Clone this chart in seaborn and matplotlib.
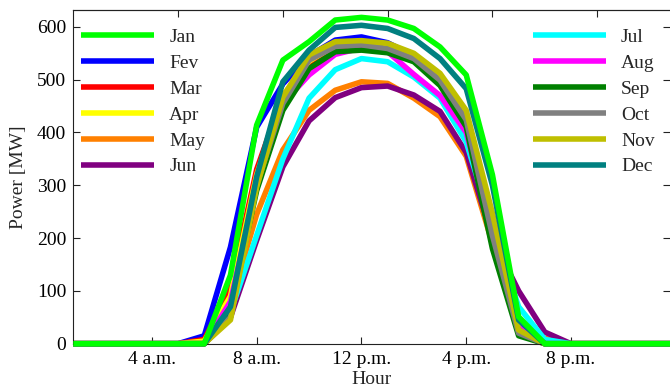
import numpy as np
import pandas as pd
import matplotlib
matplotlib.use("Agg")
import matplotlib.pyplot as plt
import seaborn as sns

hours = list(range(1, 25))
months = ["Jan", "Fev", "Mar", "Apr", "May", "Jun",
          "Jul", "Aug", "Sep", "Oct", "Nov", "Dec"]
colors = ["#00ff00", "#0000ff", "#ff0000", "#ffff00", "#ff8000", "#800080",
          "#00ffff", "#ff00ff", "#008000", "#808080", "#bfbf00", "#008080"]

# power [MW] per hour 1..24
jan = [0, 0, 0, 0, 0, 0, 130, 414, 537, 572, 613, 618, 613, 597, 562, 509, 320, 51, 0, 0, 0, 0, 0, 0]
fev = [0, 0, 0, 0, 0, 15, 183, 410, 492, 545, 575, 581, 570, 545, 503, 430, 225, 25, 0, 0, 0, 0, 0, 0]
mar = [0, 0, 0, 0, 0, 8, 105, 330, 470, 530, 560, 568, 560, 540, 495, 420, 215, 20, 0, 0, 0, 0, 0, 0]
apr = [0, 0, 0, 0, 0, 5, 90, 320, 470, 535, 565, 572, 565, 545, 505, 430, 225, 20, 0, 0, 0, 0, 0, 0]
may = [0, 0, 0, 0, 0, 0, 75, 245, 367, 442, 480, 496, 493, 465, 430, 355, 190, 35, 10, 0, 0, 0, 0, 0]
jun = [0, 0, 0, 0, 0, 0, 50, 196, 335, 422, 466, 485, 488, 471, 440, 362, 200, 100, 22, 0, 0, 0, 0, 0]
jul = [0, 0, 0, 0, 0, 0, 60, 205, 350, 465, 519, 540, 534, 505, 465, 382, 220, 70, 8, 0, 0, 0, 0, 0]
aug = [0, 0, 0, 0, 0, 0, 80, 300, 455, 509, 548, 560, 553, 510, 470, 400, 210, 40, 0, 0, 0, 0, 0, 0]
sep = [0, 0, 0, 0, 0, 0, 65, 290, 442, 521, 553, 556, 551, 534, 489, 411, 180, 15, 0, 0, 0, 0, 0, 0]
oct_ = [0, 0, 0, 0, 0, 0, 50, 300, 455, 537, 563, 566, 559, 540, 499, 424, 205, 20, 0, 0, 0, 0, 0, 0]
nov = [0, 0, 0, 0, 0, 0, 45, 297, 467, 547, 572, 574, 569, 550, 512, 442, 247, 26, 0, 0, 0, 0, 0, 0]
dec = [0, 0, 0, 0, 0, 0, 70, 316, 496, 556, 599, 603, 597, 578, 540, 483, 300, 45, 0, 0, 0, 0, 0, 0]

series = [jan, fev, mar, apr, may, jun, jul, aug, sep, oct_, nov, dec]
tick_pos = [4, 8, 12, 16, 20]
tick_labels = ["4 a.m.", "8 a.m.", "12 p.m.", "4 p.m.", "8 p.m."]

df = pd.DataFrame({
    "Hour": np.tile(hours, len(months)),
    "Power": np.concatenate(series),
    "Month": np.repeat(months, len(hours)),
})

sns.set_style("ticks")
plt.rcParams["font.family"] = ["Liberation Serif", "DejaVu Serif"]
plt.rcParams["font.size"] = 14

fig = plt.figure(figsize=(6.7, 3.91), dpi=100)
ax = fig.add_axes([73.3 / 670, 47.3 / 391, 596.2 / 670, 333.7 / 391])

sns.lineplot(data=df, x="Hour", y="Power", hue="Month", hue_order=months,
             palette=dict(zip(months, colors)), linewidth=4, ax=ax,
             legend=False, clip_on=False, solid_capstyle="butt")

lines = ax.get_lines()
# Jan sits on top of the others in the original
lines[0].set_zorder(5)

leg_kw = dict(loc="upper left", frameon=False, borderpad=0, borderaxespad=0,
              handlelength=3.76, handletextpad=0.77, labelspacing=0.43, fontsize=14)
leg1 = ax.legend(lines[:6], months[:6], bbox_to_anchor=(0.013, 0.946), **leg_kw)
ax.add_artist(leg1)
ax.legend(lines[6:], months[6:], bbox_to_anchor=(0.771, 0.946), **leg_kw)

ax.set_xlim(1, 23.76)
ax.set_ylim(0, 632)
ax.set_xticks(tick_pos)
ax.set_xticklabels(tick_labels)
ax.set_yticks(range(0, 601, 100))
ax.tick_params(direction="in", length=5, right=True, colors="#222222",
               labelcolor="black", labelsize=14, pad=5)
top = ax.secondary_xaxis("top")
top.set_xticks([5, 9, 13, 17, 21])
top.set_xticklabels([])
top.tick_params(direction="in", length=5, colors="#222222")
for s in ax.spines.values():
    s.set_color("#222222")
ax.spines["right"].set_visible(False)

ax.set_xlabel("Hour", fontsize=14)
ax.xaxis.set_label_coords(0.5, -0.083)
ax.set_ylabel("Power [MW]", fontsize=14)
ax.yaxis.set_label_coords(-0.077, 0.5)

fig.savefig("out.png", dpi=100)
